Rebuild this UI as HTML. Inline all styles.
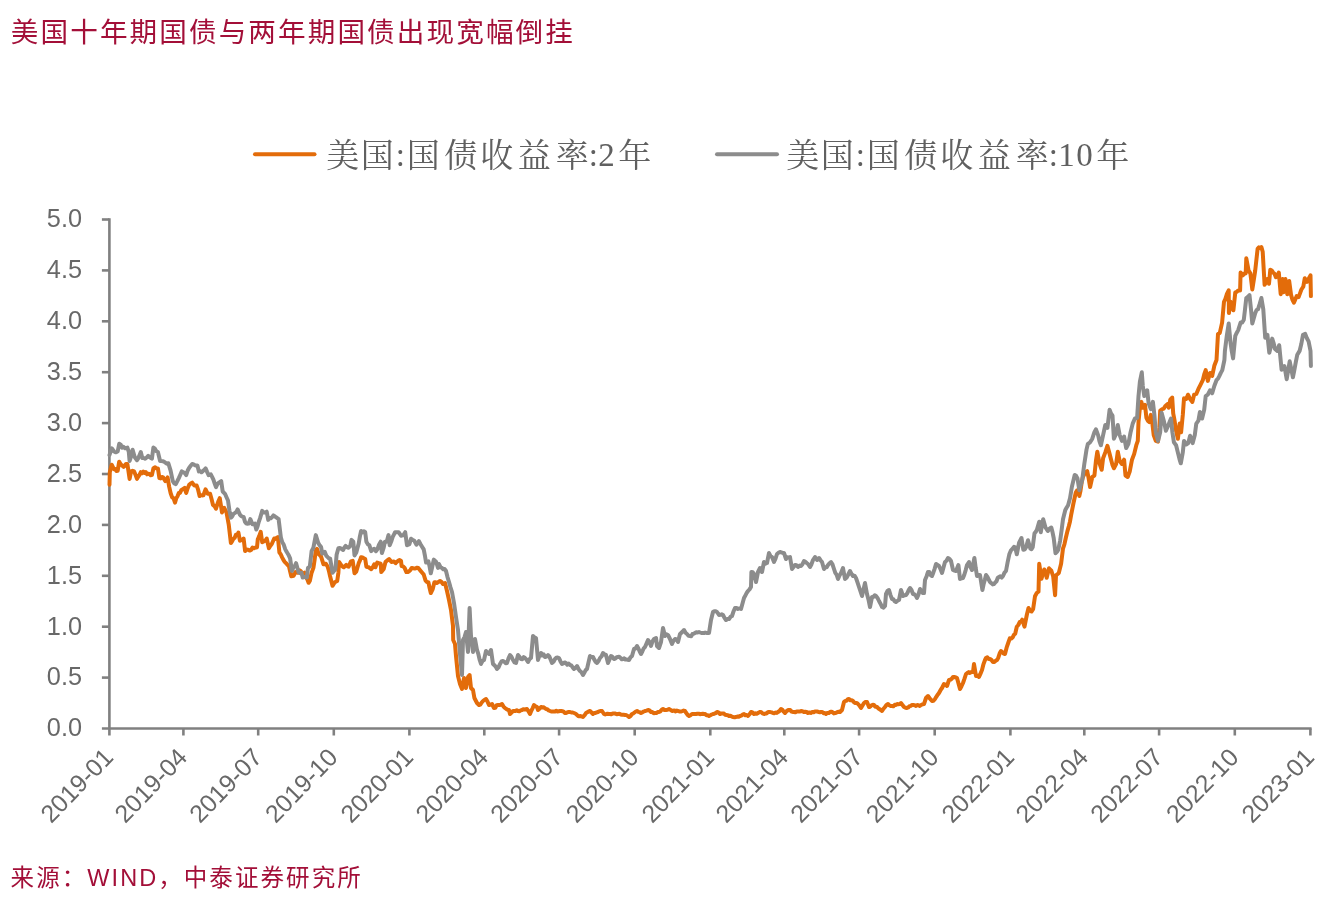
<!DOCTYPE html>
<html lang="zh-CN">
<head>
<meta charset="utf-8">
<title>美国十年期国债与两年期国债出现宽幅倒挂</title>
<style>
html,body{margin:0;padding:0;background:#fff;}
body{width:1342px;height:900px;position:relative;overflow:hidden;font-family:"Liberation Sans","Noto Sans CJK SC",sans-serif;}
.title{position:absolute;left:10.8px;top:12.5px;font-size:27.6px;line-height:40px;letter-spacing:2.1px;color:#a30f38;white-space:nowrap;}
.src{position:absolute;left:10.6px;top:860px;font-size:23.5px;line-height:36px;color:#a30f38;white-space:nowrap;letter-spacing:2.07px;}
</style>
</head>
<body>
<div class="title">美国十年期国债与两年期国债出现宽幅倒挂</div>
<svg width="1342" height="900" viewBox="0 0 1342 900" style="position:absolute;left:0;top:0">
<g stroke="#808080" stroke-width="2.6" fill="none">
<path d="M109.4 218.3 V735.5"/>
<path d="M101.9 728.5 H1311.6"/>
<path d="M101.9 677.6 H109.4"/>
<path d="M101.9 626.7 H109.4"/>
<path d="M101.9 575.8 H109.4"/>
<path d="M101.9 524.9 H109.4"/>
<path d="M101.9 474.0 H109.4"/>
<path d="M101.9 423.1 H109.4"/>
<path d="M101.9 372.2 H109.4"/>
<path d="M101.9 321.3 H109.4"/>
<path d="M101.9 270.4 H109.4"/>
<path d="M101.9 219.5 H109.4"/>
<path d="M183.4 728.5 V735.5"/>
<path d="M258.2 728.5 V735.5"/>
<path d="M333.8 728.5 V735.5"/>
<path d="M409.4 728.5 V735.5"/>
<path d="M484.3 728.5 V735.5"/>
<path d="M559.1 728.5 V735.5"/>
<path d="M634.7 728.5 V735.5"/>
<path d="M710.3 728.5 V735.5"/>
<path d="M784.3 728.5 V735.5"/>
<path d="M859.1 728.5 V735.5"/>
<path d="M934.7 728.5 V735.5"/>
<path d="M1010.4 728.5 V735.5"/>
<path d="M1084.3 728.5 V735.5"/>
<path d="M1159.1 728.5 V735.5"/>
<path d="M1234.8 728.5 V735.5"/>
<path d="M1310.4 728.5 V735.5"/>
</g>
<g font-family="'Liberation Sans', sans-serif" font-size="25.3" fill="#686868">
<text x="82" y="736.3" text-anchor="end">0.0</text>
<text x="82" y="685.4" text-anchor="end">0.5</text>
<text x="82" y="634.5" text-anchor="end">1.0</text>
<text x="82" y="583.6" text-anchor="end">1.5</text>
<text x="82" y="532.7" text-anchor="end">2.0</text>
<text x="82" y="481.8" text-anchor="end">2.5</text>
<text x="82" y="430.9" text-anchor="end">3.0</text>
<text x="82" y="380.0" text-anchor="end">3.5</text>
<text x="82" y="329.1" text-anchor="end">4.0</text>
<text x="82" y="278.2" text-anchor="end">4.5</text>
<text x="82" y="227.3" text-anchor="end">5.0</text>
<text transform="translate(114.7 758.5) rotate(-46)" text-anchor="end" font-size="24.9">2019-01</text>
<text transform="translate(188.7 758.5) rotate(-46)" text-anchor="end" font-size="24.9">2019-04</text>
<text transform="translate(263.5 758.5) rotate(-46)" text-anchor="end" font-size="24.9">2019-07</text>
<text transform="translate(339.1 758.5) rotate(-46)" text-anchor="end" font-size="24.9">2019-10</text>
<text transform="translate(414.7 758.5) rotate(-46)" text-anchor="end" font-size="24.9">2020-01</text>
<text transform="translate(489.6 758.5) rotate(-46)" text-anchor="end" font-size="24.9">2020-04</text>
<text transform="translate(564.4 758.5) rotate(-46)" text-anchor="end" font-size="24.9">2020-07</text>
<text transform="translate(640.0 758.5) rotate(-46)" text-anchor="end" font-size="24.9">2020-10</text>
<text transform="translate(715.6 758.5) rotate(-46)" text-anchor="end" font-size="24.9">2021-01</text>
<text transform="translate(789.6 758.5) rotate(-46)" text-anchor="end" font-size="24.9">2021-04</text>
<text transform="translate(864.4 758.5) rotate(-46)" text-anchor="end" font-size="24.9">2021-07</text>
<text transform="translate(940.0 758.5) rotate(-46)" text-anchor="end" font-size="24.9">2021-10</text>
<text transform="translate(1015.7 758.5) rotate(-46)" text-anchor="end" font-size="24.9">2022-01</text>
<text transform="translate(1089.6 758.5) rotate(-46)" text-anchor="end" font-size="24.9">2022-04</text>
<text transform="translate(1164.4 758.5) rotate(-46)" text-anchor="end" font-size="24.9">2022-07</text>
<text transform="translate(1240.1 758.5) rotate(-46)" text-anchor="end" font-size="24.9">2022-10</text>
<text transform="translate(1315.7 758.5) rotate(-46)" text-anchor="end" font-size="24.9">2023-01</text>
</g>
<path d="M109.5 484.8 L109.8 472.2 L111.7 464.7 L113.9 469.2 L115.2 468.9 L116.4 470.9 L117.7 470.7 L119.2 461.7 L120.7 464.3 L122.1 465.5 L123.6 466.9 L125.9 464.0 L127.4 464.0 L129.6 478.9 L131.1 471.4 L132.6 470.8 L134.1 471.4 L135.6 475.1 L137.0 478.9 L138.3 476.5 L139.5 474.8 L140.8 472.2 L142.0 473.2 L143.3 471.6 L144.5 472.9 L145.7 472.0 L147.0 474.3 L148.2 473.7 L149.4 474.0 L150.7 475.2 L151.9 475.1 L153.4 468.4 L154.9 467.2 L156.4 468.3 L157.9 468.4 L159.4 478.1 L160.6 478.4 L161.9 477.0 L163.1 477.4 L165.4 481.1 L167.6 477.4 L169.1 486.4 L170.6 493.0 L172.1 497.3 L173.5 498.2 L175.0 502.7 L176.3 498.2 L177.5 496.3 L178.8 493.0 L180.0 492.9 L181.3 490.2 L182.5 489.3 L184.7 487.8 L186.2 493.0 L187.7 488.2 L189.2 484.8 L190.7 483.5 L192.2 482.6 L194.4 485.6 L196.7 485.6 L198.1 489.7 L199.6 496.0 L200.9 495.1 L202.1 495.4 L203.4 495.3 L205.6 489.3 L207.8 493.8 L210.1 493.8 L211.6 499.3 L213.0 504.9 L214.5 506.1 L216.0 508.7 L217.3 504.5 L218.5 501.0 L219.8 498.2 L222.0 512.4 L224.2 507.9 L226.5 512.4 L228.7 524.3 L230.9 543.0 L232.2 541.1 L233.4 538.9 L234.7 537.7 L235.9 534.7 L237.2 535.1 L238.4 532.5 L239.9 540.7 L241.1 540.1 L242.4 539.6 L243.6 538.5 L245.1 551.1 L246.6 549.6 L248.1 549.7 L249.6 550.6 L251.1 549.9 L252.5 547.6 L254.0 548.2 L255.5 547.4 L257.0 547.4 L257.8 539.2 L259.2 536.1 L260.7 531.8 L262.2 542.2 L263.7 541.5 L265.2 540.8 L266.7 538.5 L268.9 548.2 L270.4 545.7 L271.9 543.7 L274.2 538.5 L275.4 538.9 L276.7 537.9 L277.9 537.0 L279.4 552.6 L280.7 554.2 L282.0 557.1 L283.4 559.9 L284.7 561.9 L286.0 563.2 L287.4 564.7 L288.9 566.1 L290.1 571.4 L291.3 576.3 L293.7 575.7 L295.5 572.1 L297.9 572.7 L299.7 570.3 L300.9 571.3 L302.1 573.9 L304.4 572.7 L306.2 577.5 L307.4 579.6 L308.6 582.8 L309.8 581.0 L311.6 572.7 L313.4 567.9 L314.6 559.9 L315.8 550.6 L317.0 548.8 L318.7 554.2 L319.9 555.2 L321.1 556.6 L323.5 564.3 L325.9 563.7 L327.7 566.7 L328.9 570.9 L330.1 576.3 L332.5 585.8 L334.8 582.2 L337.2 581.0 L338.4 572.7 L339.0 562.0 L341.4 565.5 L342.6 566.5 L343.8 567.3 L346.2 564.9 L347.4 566.3 L348.6 566.7 L350.9 561.4 L352.7 560.8 L354.5 573.3 L356.3 571.5 L358.7 563.2 L359.9 560.6 L361.1 557.2 L362.5 557.5 L363.8 558.3 L365.2 559.0 L366.4 566.7 L367.6 567.0 L368.8 567.3 L371.2 569.1 L372.7 567.3 L374.2 564.3 L375.4 567.3 L377.2 562.6 L378.9 563.2 L380.7 563.7 L381.3 572.1 L383.7 569.1 L385.5 562.0 L386.7 560.8 L387.9 560.0 L389.1 559.0 L391.5 562.0 L393.9 561.4 L395.6 563.2 L398.0 560.8 L399.5 560.1 L401.0 560.8 L401.6 566.1 L403.1 566.4 L404.6 567.9 L406.4 572.1 L407.6 572.1 L408.8 571.5 L410.2 570.3 L411.7 567.9 L413.2 568.3 L414.7 568.5 L415.9 568.2 L417.1 567.7 L418.3 567.9 L420.7 570.9 L422.2 572.7 L423.7 574.5 L425.5 580.4 L426.9 582.1 L428.4 582.2 L429.6 588.0 L430.8 593.0 L432.6 589.4 L434.4 582.2 L435.6 582.3 L436.8 582.9 L438.0 582.2 L440.0 581.0 L441.5 582.0 L443.0 584.0 L445.0 583.0 L447.0 591.0 L449.0 600.0 L451.0 610.0 L453.0 626.0 L453.2 640.0 L455.0 644.0 L456.0 656.0 L458.0 676.0 L460.0 684.0 L462.0 689.0 L464.0 678.0 L466.0 688.0 L468.0 677.0 L469.6 675.0 L471.0 688.0 L473.0 690.0 L474.4 698.0 L475.7 700.5 L477.0 703.0 L479.0 705.0 L480.3 704.6 L481.7 702.5 L483.0 701.0 L484.5 699.9 L486.0 699.0 L487.5 701.6 L489.0 705.0 L490.5 704.6 L492.0 704.0 L494.0 708.0 L495.3 707.8 L496.7 705.2 L498.0 705.0 L499.3 705.1 L500.7 704.8 L502.0 704.0 L503.5 706.6 L505.0 708.0 L506.3 709.0 L507.7 709.8 L509.0 710.0 L510.0 714.0 L511.5 712.5 L513.0 711.0 L514.2 711.1 L515.5 710.9 L516.8 710.3 L518.0 711.0 L519.3 711.3 L520.7 710.4 L522.0 710.0 L523.2 709.3 L524.5 709.5 L525.8 709.2 L527.0 709.0 L528.5 711.3 L530.0 714.0 L531.3 710.7 L532.7 708.1 L534.0 705.0 L535.5 706.2 L537.0 707.0 L538.0 710.0 L539.5 708.7 L541.0 707.0 L542.2 707.4 L543.5 707.2 L544.8 708.1 L546.0 709.0 L547.3 709.2 L548.7 710.5 L550.0 711.0 L551.2 711.5 L552.5 711.4 L553.8 711.4 L555.0 711.4 L556.2 710.7 L557.5 711.4 L558.8 711.2 L560.0 711.0 L561.2 710.9 L562.4 711.2 L563.6 711.6 L564.8 712.9 L566.0 713.0 L567.3 712.4 L568.7 711.9 L570.0 712.0 L571.3 712.5 L572.7 712.5 L574.0 713.0 L575.3 713.5 L576.7 714.6 L578.0 716.0 L579.2 716.3 L580.5 716.1 L581.8 716.5 L583.0 717.0 L584.5 715.3 L586.0 713.0 L587.3 712.3 L588.7 711.4 L590.0 711.0 L591.5 712.5 L593.0 714.0 L594.2 713.0 L595.5 712.9 L596.8 712.4 L598.0 712.0 L599.3 711.3 L600.7 710.9 L602.0 711.0 L604.0 714.0 L605.2 714.5 L606.4 714.0 L607.6 713.7 L608.8 714.1 L610.0 714.0 L611.3 714.3 L612.7 713.5 L614.0 713.5 L615.3 713.6 L616.7 714.2 L618.0 714.0 L619.4 713.8 L620.8 714.6 L622.2 714.8 L623.6 714.8 L625.0 715.0 L626.0 715.0 L627.5 715.7 L629.0 717.0 L630.5 716.0 L632.0 714.0 L633.2 713.5 L634.5 712.5 L635.8 711.5 L637.0 711.0 L638.3 711.8 L639.7 712.2 L641.0 713.0 L642.3 712.4 L643.7 711.5 L645.0 711.0 L646.5 710.6 L648.0 710.0 L649.5 710.5 L651.0 712.0 L652.3 712.1 L653.7 713.2 L655.0 713.0 L656.3 713.1 L657.7 712.1 L659.0 712.0 L660.3 711.4 L661.7 709.8 L663.0 709.0 L664.5 710.0 L666.0 710.0 L667.5 709.8 L669.0 709.0 L670.5 709.9 L672.0 711.0 L673.2 710.7 L674.4 710.4 L675.6 711.4 L676.8 710.5 L678.0 711.0 L679.4 711.4 L680.8 711.5 L682.2 711.1 L683.6 710.6 L685.0 711.0 L686.3 713.1 L687.7 714.9 L689.0 716.0 L690.5 715.2 L692.0 714.0 L693.3 714.0 L694.7 713.9 L696.0 714.0 L697.3 713.8 L698.7 713.7 L700.0 714.2 L701.3 713.9 L702.7 713.7 L704.0 714.0 L705.2 714.1 L706.5 715.2 L707.8 715.3 L709.0 716.0 L710.3 715.3 L711.7 714.5 L713.0 714.0 L714.3 713.7 L715.7 713.1 L717.0 712.0 L718.5 712.5 L720.0 714.0 L721.3 713.6 L722.7 713.6 L724.0 713.6 L725.2 714.8 L726.5 715.1 L727.8 715.2 L729.0 716.0 L730.4 715.8 L731.8 716.6 L733.2 717.0 L734.6 717.3 L736.0 717.0 L737.3 716.5 L738.7 716.8 L740.0 716.0 L741.3 715.6 L742.7 714.6 L744.0 714.0 L745.3 715.2 L746.7 715.0 L748.0 716.0 L749.5 714.3 L751.0 712.0 L752.5 712.5 L754.0 714.0 L755.3 713.3 L756.7 713.8 L758.0 713.0 L759.5 712.1 L761.0 712.0 L762.5 713.4 L764.0 714.0 L765.2 713.6 L766.5 713.5 L767.8 712.3 L769.0 712.0 L770.3 712.1 L771.7 712.4 L773.0 713.0 L774.2 713.2 L775.5 712.6 L776.8 712.9 L778.0 712.0 L779.5 711.0 L781.0 709.0 L782.3 709.8 L783.7 711.7 L785.0 713.0 L786.3 711.4 L787.7 710.3 L789.0 710.0 L790.2 709.9 L791.5 711.5 L792.8 711.9 L794.0 712.0 L795.4 712.3 L796.8 711.4 L798.2 711.6 L799.6 711.6 L801.0 711.0 L802.4 711.2 L803.8 711.9 L805.2 711.8 L806.6 712.0 L808.0 713.0 L809.4 712.4 L810.8 712.9 L812.2 712.1 L813.6 712.3 L815.0 711.4 L816.2 711.5 L817.4 711.4 L818.6 712.1 L819.8 712.3 L821.0 712.0 L822.2 711.9 L823.5 713.2 L824.8 713.0 L826.0 714.0 L827.3 712.9 L828.7 713.1 L830.0 712.0 L831.2 711.7 L832.5 712.2 L833.8 713.4 L835.0 713.0 L836.2 712.7 L837.5 712.0 L838.8 711.8 L840.0 712.0 L842.0 710.0 L844.0 702.0 L845.2 700.9 L846.5 700.8 L847.8 699.2 L849.0 699.0 L850.3 700.3 L851.7 700.2 L853.0 701.0 L854.2 702.5 L855.5 703.1 L856.8 702.9 L858.0 704.0 L859.5 705.6 L861.0 708.0 L862.5 705.5 L864.0 703.0 L865.5 701.9 L867.0 702.0 L869.0 707.0 L870.2 706.7 L871.5 705.3 L872.8 704.8 L874.0 705.0 L875.3 706.7 L876.7 706.7 L878.0 708.0 L879.3 709.1 L880.7 709.9 L882.0 711.0 L883.5 708.7 L885.0 707.0 L886.5 704.9 L888.0 704.0 L889.3 705.3 L890.7 706.0 L892.0 706.0 L893.3 706.3 L894.7 704.8 L896.0 705.0 L897.2 704.1 L898.5 704.2 L899.8 704.1 L901.0 703.0 L902.5 705.1 L904.0 707.0 L905.5 707.7 L907.0 708.0 L908.2 707.5 L909.5 706.2 L910.8 705.8 L912.0 705.0 L913.3 705.1 L914.7 705.3 L916.0 706.0 L917.2 705.1 L918.5 705.2 L919.8 705.9 L921.0 705.0 L922.5 704.4 L924.0 704.0 L926.0 698.0 L928.0 696.0 L929.3 697.9 L930.7 699.5 L932.0 701.0 L933.5 700.7 L935.0 699.0 L936.3 696.8 L937.7 694.7 L939.0 693.0 L940.5 690.2 L942.0 688.0 L944.0 684.0 L945.5 684.6 L947.0 686.0 L949.0 680.0 L950.3 679.7 L951.7 678.8 L953.0 677.0 L954.3 677.0 L955.7 677.4 L957.0 678.0 L958.5 683.6 L960.0 689.0 L961.5 686.2 L963.0 683.0 L964.5 678.7 L966.0 674.0 L967.3 673.0 L968.7 672.1 L970.0 673.0 L971.5 671.9 L973.0 672.0 L974.0 664.0 L976.0 676.0 L977.5 675.6 L979.0 677.0 L980.5 673.6 L982.0 670.0 L983.5 664.1 L985.0 660.0 L986.0 658.0 L987.3 657.3 L988.7 659.0 L990.0 659.0 L991.5 660.0 L993.0 662.0 L994.3 661.9 L995.7 660.7 L997.0 660.0 L998.3 657.7 L999.7 653.3 L1001.0 651.0 L1002.3 652.0 L1003.7 653.6 L1005.0 654.0 L1006.6 647.7 L1008.2 643.0 L1009.8 638.3 L1011.3 638.6 L1012.8 637.2 L1014.0 634.7 L1015.2 633.7 L1016.8 626.7 L1018.3 625.0 L1019.8 622.0 L1021.0 621.8 L1022.2 619.7 L1024.5 626.7 L1026.8 615.0 L1028.5 608.0 L1030.0 610.6 L1031.5 611.5 L1033.1 609.2 L1035.0 596.3 L1036.9 592.8 L1038.5 591.7 L1039.2 563.7 L1041.5 578.8 L1042.9 573.7 L1044.3 569.5 L1045.5 572.6 L1046.7 577.7 L1049.0 568.3 L1051.3 570.7 L1053.2 576.5 L1055.1 595.2 L1056.0 575.3 L1057.4 574.2 L1058.8 573.0 L1061.1 563.7 L1063.0 548.5 L1064.4 544.3 L1065.8 538.0 L1067.3 531.6 L1068.8 526.3 L1070.0 521.4 L1071.2 514.7 L1073.5 503.0 L1075.8 492.5 L1077.0 490.5 L1078.2 490.2 L1079.3 496.0 L1080.5 490.7 L1081.7 482.1 L1082.9 477.0 L1085.1 472.7 L1087.2 471.2 L1088.7 478.7 L1090.1 487.1 L1092.3 477.0 L1094.4 475.6 L1095.9 461.1 L1097.3 451.7 L1099.5 463.3 L1101.7 469.8 L1103.1 458.2 L1105.3 452.4 L1107.4 445.9 L1109.6 453.9 L1111.1 459.7 L1112.5 465.0 L1113.9 468.3 L1116.1 464.0 L1117.8 451.7 L1119.7 461.1 L1121.9 464.0 L1124.1 459.7 L1125.5 475.6 L1127.7 477.0 L1129.8 471.2 L1132.0 459.7 L1134.2 453.9 L1136.3 445.2 L1137.8 440.9 L1138.5 422.1 L1139.9 407.7 L1141.4 401.9 L1142.8 407.7 L1145.0 404.8 L1146.4 417.8 L1147.8 420.7 L1149.3 422.1 L1150.8 414.9 L1152.2 422.1 L1153.7 435.1 L1155.8 440.9 L1158.0 441.6 L1159.4 427.9 L1160.2 410.6 L1162.3 409.1 L1163.8 408.6 L1165.2 406.2 L1167.4 404.1 L1168.8 407.7 L1170.3 399.7 L1172.2 397.6 L1173.2 413.4 L1174.6 420.7 L1176.1 430.8 L1177.9 438.7 L1179.7 423.6 L1181.1 432.2 L1182.8 414.9 L1184.0 398.3 L1186.2 399.0 L1188.0 394.7 L1190.1 399.0 L1192.4 401.9 L1194.1 394.7 L1196.3 393.9 L1198.4 388.9 L1200.6 384.6 L1202.8 380.2 L1204.2 374.4 L1205.7 370.1 L1207.8 380.9 L1210.0 373.0 L1212.2 375.9 L1214.3 365.8 L1216.5 360.0 L1218.0 333.9 L1219.8 332.9 L1222.1 322.6 L1224.0 301.8 L1225.4 298.9 L1226.8 294.2 L1228.7 290.4 L1228.9 313.1 L1230.6 301.8 L1232.0 306.7 L1233.4 310.3 L1235.3 292.3 L1236.8 291.8 L1238.2 290.4 L1240.1 290.4 L1240.6 272.5 L1242.9 275.3 L1244.3 273.5 L1245.7 273.4 L1246.3 258.3 L1248.6 270.6 L1250.4 273.4 L1252.3 289.5 L1253.8 279.9 L1255.2 270.6 L1257.6 248.9 L1258.9 247.4 L1260.1 248.2 L1261.4 247.0 L1262.7 251.7 L1264.6 284.8 L1266.0 282.4 L1267.4 279.1 L1269.0 283.8 L1270.3 269.7 L1271.7 270.5 L1273.1 272.5 L1274.5 273.7 L1275.9 277.2 L1277.3 276.1 L1278.8 272.5 L1280.7 294.2 L1282.6 279.1 L1283.5 292.3 L1285.4 279.1 L1287.3 294.2 L1289.2 281.0 L1291.1 295.2 L1292.5 299.8 L1293.9 302.7 L1295.3 299.5 L1296.7 296.1 L1298.6 297.1 L1300.0 293.4 L1301.4 289.5 L1303.3 286.7 L1304.8 278.2 L1307.1 281.9 L1309.0 278.2 L1310.5 275.3 L1310.9 296.1" fill="none" stroke="#E36C0A" stroke-width="4" stroke-linejoin="round" stroke-linecap="round"/>
<path d="M109.5 455.0 L111.7 448.3 L113.9 451.3 L115.2 452.2 L116.4 452.2 L117.7 451.3 L119.2 443.8 L120.7 444.7 L122.1 447.6 L123.6 446.9 L125.1 448.3 L127.4 447.6 L128.8 452.0 L129.6 461.0 L131.1 456.3 L132.6 449.8 L134.8 457.3 L137.0 460.2 L138.3 458.1 L139.5 455.2 L140.8 452.0 L142.3 458.0 L143.8 457.9 L145.2 458.7 L146.7 457.5 L148.2 455.8 L149.4 457.0 L150.7 457.9 L151.9 458.7 L153.4 447.6 L154.9 448.7 L156.4 451.3 L157.9 452.0 L160.1 461.0 L161.4 461.1 L162.6 461.2 L163.9 461.7 L165.4 462.7 L166.8 463.8 L168.3 463.2 L170.6 470.7 L172.8 481.1 L174.3 483.5 L175.8 484.1 L177.3 481.2 L178.8 478.1 L180.3 474.7 L181.8 471.4 L183.3 472.2 L184.7 473.0 L186.2 475.1 L187.7 470.5 L189.2 467.7 L190.7 465.8 L192.2 464.0 L193.7 464.4 L195.2 465.5 L197.4 465.5 L198.9 471.4 L200.1 471.1 L201.4 472.3 L202.6 471.4 L204.1 470.0 L205.6 468.4 L207.1 471.9 L208.6 475.1 L210.8 474.4 L212.1 476.9 L213.4 479.6 L214.7 483.5 L216.0 487.1 L217.5 483.9 L219.0 482.6 L221.2 481.1 L222.7 491.5 L225.0 493.8 L226.5 497.2 L228.0 500.5 L229.4 510.3 L230.9 517.6 L232.2 516.5 L233.4 513.9 L234.7 513.1 L236.1 512.1 L237.6 509.4 L239.9 514.6 L241.1 516.0 L242.4 516.6 L243.6 516.9 L245.1 522.1 L246.3 523.6 L247.6 523.7 L248.8 523.6 L250.3 519.1 L252.5 524.3 L254.8 523.6 L256.3 529.5 L257.5 526.5 L258.8 521.7 L260.0 518.4 L262.2 510.9 L263.7 512.4 L265.2 512.6 L266.7 511.7 L268.2 519.9 L269.5 517.9 L270.8 518.3 L272.1 517.1 L273.4 515.4 L274.7 516.2 L276.0 517.3 L277.3 518.1 L278.6 519.1 L280.9 537.7 L282.3 542.3 L283.8 544.8 L285.2 549.1 L286.6 551.8 L288.4 554.7 L290.1 558.4 L291.9 570.9 L293.7 566.7 L294.9 565.8 L296.1 563.2 L298.5 572.1 L300.0 573.3 L301.5 572.7 L302.7 577.5 L305.0 576.9 L306.8 577.5 L308.0 567.9 L309.8 566.7 L311.6 551.2 L313.4 547.7 L314.6 541.3 L315.8 535.1 L318.2 542.9 L319.6 545.2 L321.1 547.1 L322.3 553.6 L324.7 551.8 L326.2 555.6 L327.7 557.2 L328.9 558.4 L330.1 558.4 L332.5 572.7 L333.9 570.9 L335.4 569.1 L336.6 554.8 L338.4 548.2 L339.9 547.9 L341.4 548.8 L343.2 550.0 L344.4 547.5 L345.6 545.9 L347.1 547.3 L348.6 547.7 L350.3 545.9 L351.5 539.9 L353.3 541.7 L354.5 555.4 L356.3 552.4 L358.7 543.5 L359.9 536.4 L361.1 531.0 L362.5 532.4 L363.8 531.2 L365.2 532.2 L366.4 541.7 L367.9 544.4 L369.4 545.3 L371.2 551.2 L372.7 549.5 L374.2 548.8 L376.0 551.2 L377.5 549.0 L379.0 544.7 L380.7 541.7 L381.9 553.0 L383.7 547.7 L384.9 541.7 L386.7 541.7 L388.5 535.1 L389.7 545.3 L391.2 541.6 L392.7 536.9 L393.9 534.6 L395.1 532.2 L396.9 532.2 L398.6 532.2 L401.0 535.7 L403.4 535.1 L405.2 532.2 L407.0 545.3 L409.4 544.1 L411.1 538.7 L412.6 539.9 L414.1 540.5 L416.5 544.7 L418.9 541.1 L420.4 544.0 L421.9 546.5 L423.7 549.4 L424.9 555.5 L426.1 562.6 L428.4 561.4 L429.6 566.6 L430.8 573.3 L432.3 566.5 L433.8 559.6 L436.2 562.0 L438.0 567.9 L439.0 564.0 L440.5 567.1 L442.0 568.0 L443.3 569.3 L444.7 569.1 L446.0 571.0 L447.5 577.1 L449.0 582.0 L450.5 587.4 L452.0 592.0 L454.0 603.0 L456.0 617.0 L458.0 630.0 L460.0 654.0 L462.0 675.0 L463.0 640.0 L464.5 637.1 L466.0 632.0 L468.0 652.0 L469.6 608.0 L471.0 636.0 L473.0 652.0 L475.0 639.0 L477.0 650.0 L478.3 653.9 L479.7 660.0 L481.0 664.0 L482.5 660.9 L484.0 660.0 L486.0 651.0 L487.5 652.9 L489.0 654.0 L491.0 650.0 L493.0 664.0 L494.3 665.1 L495.7 666.6 L497.0 669.0 L498.5 667.4 L500.0 664.0 L501.5 661.5 L503.0 661.0 L504.3 661.7 L505.7 663.3 L507.0 663.0 L508.5 658.3 L510.0 655.0 L511.5 656.8 L513.0 660.0 L514.5 662.4 L516.0 663.0 L518.0 655.0 L519.5 656.8 L521.0 659.0 L522.3 659.2 L523.7 657.1 L525.0 658.0 L526.5 659.6 L528.0 662.0 L529.5 659.1 L531.0 658.0 L533.0 636.0 L534.5 637.4 L536.0 638.0 L538.0 660.0 L539.5 655.4 L541.0 653.0 L542.3 655.5 L543.7 654.4 L545.0 657.0 L546.5 656.6 L548.0 655.0 L549.3 656.4 L550.7 659.7 L552.0 663.0 L553.5 661.8 L555.0 659.0 L556.3 657.8 L557.7 657.5 L559.0 658.0 L560.5 661.4 L562.0 664.0 L563.3 663.4 L564.7 662.4 L566.0 663.0 L567.3 664.7 L568.7 663.6 L570.0 665.0 L571.3 665.4 L572.7 667.4 L574.0 669.0 L575.5 667.7 L577.0 666.0 L578.5 669.0 L580.0 671.0 L581.5 672.2 L583.0 675.0 L584.3 672.7 L585.7 670.1 L587.0 669.0 L588.5 662.4 L590.0 656.0 L591.5 657.1 L593.0 657.0 L594.3 659.6 L595.7 661.9 L597.0 663.0 L598.5 661.1 L600.0 658.0 L601.5 656.4 L603.0 653.0 L604.5 654.5 L606.0 655.0 L608.0 663.0 L609.5 659.4 L611.0 656.0 L612.5 657.0 L614.0 659.0 L615.3 658.6 L616.7 657.3 L618.0 657.0 L619.2 656.7 L620.5 657.9 L621.8 659.3 L623.0 659.0 L624.2 658.4 L625.4 659.6 L626.6 659.4 L627.8 659.8 L629.0 660.0 L630.5 657.3 L632.0 656.0 L634.0 649.0 L635.5 648.5 L637.0 646.0 L638.3 648.2 L639.7 651.6 L641.0 654.0 L642.3 651.5 L643.7 648.3 L645.0 647.0 L646.5 643.6 L648.0 640.0 L649.5 642.1 L651.0 646.0 L652.5 641.4 L654.0 639.0 L656.0 638.0 L657.0 646.0 L659.0 648.0 L661.0 642.0 L663.0 628.0 L665.0 636.0 L666.5 634.3 L668.0 635.0 L670.0 639.0 L672.0 644.0 L673.5 640.7 L675.0 639.0 L676.5 639.5 L678.0 642.0 L680.0 634.0 L681.3 632.9 L682.7 631.3 L684.0 630.0 L685.5 632.8 L687.0 634.0 L688.5 635.8 L690.0 636.0 L691.2 636.2 L692.5 634.0 L693.8 633.6 L695.0 633.0 L696.3 632.2 L697.7 632.5 L699.0 632.0 L700.2 632.5 L701.5 633.0 L702.8 633.1 L704.0 633.0 L705.2 632.6 L706.5 632.9 L707.8 633.0 L709.0 633.0 L711.0 620.0 L713.0 612.0 L714.3 611.2 L715.7 611.3 L717.0 612.0 L719.0 615.0 L720.3 614.8 L721.7 614.3 L723.0 615.0 L724.5 617.9 L726.0 620.0 L727.5 619.0 L729.0 619.0 L730.5 616.8 L732.0 616.0 L733.5 611.5 L735.0 608.0 L736.5 608.0 L738.0 609.0 L739.5 608.4 L741.0 609.0 L742.5 603.5 L744.0 598.0 L745.3 595.6 L746.7 592.9 L748.0 591.0 L749.5 589.4 L751.0 587.0 L751.4 572.0 L752.7 572.3 L754.0 574.0 L756.0 582.0 L758.0 572.0 L760.0 568.0 L762.0 572.0 L764.0 562.0 L765.5 563.6 L767.0 563.0 L769.0 553.0 L770.5 556.2 L772.0 557.0 L774.0 562.0 L775.5 558.6 L777.0 554.0 L778.5 552.8 L780.0 552.0 L781.3 552.4 L782.7 552.9 L784.0 553.0 L786.0 559.0 L787.3 557.3 L788.7 557.5 L790.0 557.0 L792.0 569.0 L793.5 567.1 L795.0 565.0 L796.5 565.3 L798.0 567.0 L799.5 565.6 L801.0 566.0 L802.5 564.2 L804.0 561.0 L805.3 561.7 L806.7 563.0 L808.0 564.0 L810.0 567.0 L811.5 564.2 L813.0 560.0 L815.0 557.0 L817.0 560.0 L819.0 558.0 L820.5 560.2 L822.0 562.0 L824.0 569.0 L825.3 567.3 L826.7 567.3 L828.0 565.0 L829.5 563.2 L831.0 562.0 L832.5 564.3 L834.0 569.0 L835.3 572.8 L836.7 574.8 L838.0 579.0 L839.5 575.5 L841.0 573.0 L843.0 568.0 L845.0 579.0 L846.5 577.8 L848.0 575.0 L850.0 571.0 L851.5 573.9 L853.0 576.0 L854.5 575.7 L856.0 578.0 L857.5 582.4 L859.0 587.0 L860.5 591.3 L862.0 596.0 L863.5 589.5 L865.0 583.0 L867.0 594.0 L868.5 599.7 L870.0 607.0 L872.0 597.0 L873.3 596.9 L874.7 595.2 L876.0 596.0 L877.5 597.9 L879.0 601.0 L880.5 603.7 L882.0 607.0 L883.5 607.6 L885.0 606.0 L886.0 594.0 L887.5 591.0 L889.0 590.0 L890.5 595.1 L892.0 599.0 L893.3 599.3 L894.7 601.2 L896.0 602.0 L897.5 600.7 L899.0 600.0 L901.0 590.0 L903.0 596.0 L904.5 595.4 L906.0 595.0 L907.3 593.3 L908.7 590.1 L910.0 588.0 L911.5 590.0 L913.0 594.0 L914.3 594.3 L915.7 595.6 L917.0 598.0 L918.5 594.4 L920.0 589.0 L921.3 590.7 L922.7 592.9 L924.0 593.0 L925.0 580.0 L926.5 576.5 L928.0 572.0 L929.3 572.1 L930.7 575.1 L932.0 576.0 L933.3 572.7 L934.7 568.6 L936.0 564.0 L937.5 565.0 L939.0 566.0 L940.5 569.1 L942.0 573.0 L943.5 567.4 L945.0 562.0 L946.5 560.8 L948.0 558.0 L949.5 558.9 L951.0 561.0 L953.0 570.0 L954.5 570.6 L956.0 571.0 L958.4 565.0 L960.0 579.0 L961.5 578.4 L963.0 578.0 L964.3 574.8 L965.7 570.1 L967.0 565.0 L969.0 562.0 L970.5 567.1 L972.0 570.0 L974.4 558.0 L975.7 567.9 L977.0 576.0 L978.5 575.0 L980.0 575.0 L982.4 590.0 L983.6 584.3 L984.8 580.0 L986.0 575.0 L987.3 576.7 L988.7 579.5 L990.0 582.0 L991.3 583.1 L992.7 584.4 L994.0 584.0 L995.2 582.5 L996.5 581.3 L997.8 577.7 L999.0 577.0 L1000.3 576.3 L1001.7 577.6 L1003.0 576.0 L1004.5 572.6 L1006.0 571.0 L1007.6 562.4 L1009.3 554.3 L1011.0 550.3 L1012.8 548.5 L1014.0 546.8 L1015.2 547.3 L1016.8 554.3 L1019.1 542.7 L1021.5 538.0 L1023.3 549.7 L1024.7 549.5 L1026.1 547.3 L1028.0 540.3 L1030.3 548.5 L1031.5 549.2 L1032.7 547.3 L1034.5 533.3 L1035.7 531.9 L1036.9 529.8 L1039.2 521.7 L1040.8 532.2 L1042.0 524.8 L1043.2 519.3 L1045.5 527.5 L1047.8 531.0 L1049.5 528.7 L1051.3 527.5 L1052.5 532.1 L1053.7 538.0 L1055.5 553.2 L1056.9 551.9 L1058.3 549.7 L1060.2 540.3 L1061.6 530.2 L1063.0 519.3 L1065.3 510.0 L1066.7 507.5 L1068.1 505.3 L1070.0 498.3 L1071.9 486.7 L1073.3 480.9 L1074.7 475.0 L1076.1 475.8 L1077.5 478.5 L1079.3 490.2 L1080.8 485.1 L1082.2 479.9 L1084.3 464.0 L1086.5 449.6 L1087.9 443.8 L1090.1 442.3 L1092.3 438.7 L1094.4 432.2 L1095.9 429.3 L1098.1 435.1 L1099.5 441.3 L1100.9 445.2 L1103.1 435.1 L1105.3 425.0 L1107.4 427.9 L1109.6 409.8 L1111.0 413.4 L1112.5 415.6 L1113.9 438.7 L1116.1 433.7 L1117.8 425.0 L1119.7 435.1 L1121.9 440.9 L1124.1 436.6 L1126.2 448.1 L1128.4 443.8 L1130.6 432.2 L1132.7 423.6 L1134.9 418.5 L1137.1 417.8 L1138.5 396.1 L1139.9 381.7 L1141.8 372.3 L1142.8 386.0 L1144.3 396.1 L1145.8 392.2 L1147.2 390.3 L1148.6 403.3 L1150.8 409.1 L1152.9 401.9 L1154.4 414.9 L1155.8 432.2 L1158.0 440.9 L1160.2 432.2 L1161.6 412.7 L1163.8 420.7 L1165.9 430.8 L1168.1 425.7 L1169.5 422.1 L1171.0 418.5 L1172.4 432.2 L1173.9 442.3 L1176.1 445.2 L1178.2 453.9 L1179.5 459.1 L1180.8 463.3 L1182.8 452.4 L1184.0 440.9 L1186.2 444.5 L1188.3 443.1 L1190.1 435.8 L1191.4 438.8 L1192.7 443.1 L1194.8 435.1 L1196.3 423.6 L1198.4 420.7 L1199.9 412.0 L1202.1 418.5 L1204.2 409.8 L1205.7 396.1 L1207.8 394.7 L1210.0 390.3 L1212.2 393.2 L1214.3 386.0 L1216.5 380.2 L1218.0 378.7 L1219.4 375.9 L1220.8 372.9 L1222.3 370.1 L1224.4 360.0 L1224.9 350.9 L1226.8 335.8 L1228.7 323.5 L1230.6 343.3 L1231.8 351.4 L1233.1 358.4 L1235.3 335.8 L1236.8 332.7 L1238.2 330.1 L1240.6 322.6 L1242.2 322.4 L1243.8 319.7 L1245.0 309.6 L1246.3 298.0 L1247.9 296.8 L1249.5 295.2 L1250.9 308.4 L1252.3 323.5 L1253.8 318.1 L1255.2 313.1 L1256.6 310.0 L1258.0 309.3 L1259.7 303.9 L1261.4 298.0 L1263.3 309.3 L1265.2 337.7 L1267.4 334.8 L1269.3 352.8 L1270.8 346.7 L1272.2 338.6 L1273.6 343.0 L1275.0 349.0 L1277.3 350.9 L1279.2 345.2 L1281.6 369.8 L1283.0 367.9 L1284.4 366.0 L1286.7 379.2 L1288.2 370.2 L1289.7 361.3 L1291.3 369.1 L1292.9 377.3 L1294.3 370.3 L1295.8 362.2 L1297.3 354.7 L1299.6 350.9 L1301.3 344.0 L1303.0 334.8 L1305.2 333.9 L1306.9 338.2 L1308.6 341.4 L1310.5 350.9 L1310.9 366.0" fill="none" stroke="#8c8c8c" stroke-width="4" stroke-linejoin="round" stroke-linecap="round"/>
<path d="M255 154.3 H314.5" stroke="#E36C0A" stroke-width="4" stroke-linecap="round"/>
<path d="M717 154.3 H777" stroke="#8c8c8c" stroke-width="4" stroke-linecap="round"/>
<text x="326.2 360.8 395.8 406.8 444.2 480.2 517.8 555.8 588.8 598.3 618.2" y="167.0 167.0 166.0 167.0 167.0 167.0 167.0 167.0 166.0 166.0 167.0" font-size="33.0" fill="#606060" font-family="'Liberation Serif', 'Noto Serif CJK SC', serif">美国:国债收益率:2年</text>
<text x="786.2 820.8 855.8 866.8 904.2 940.2 977.8 1015.8 1048.8 1058.3 1076.3 1096.2" y="167.0 167.0 166.0 167.0 167.0 167.0 167.0 167.0 166.0 166.0 166.0 167.0" font-size="33.0" fill="#606060" font-family="'Liberation Serif', 'Noto Serif CJK SC', serif">美国:国债收益率:10年</text>
</svg>
<div class="src">来源：WIND，中泰证券研究所</div>
</body>
</html>
